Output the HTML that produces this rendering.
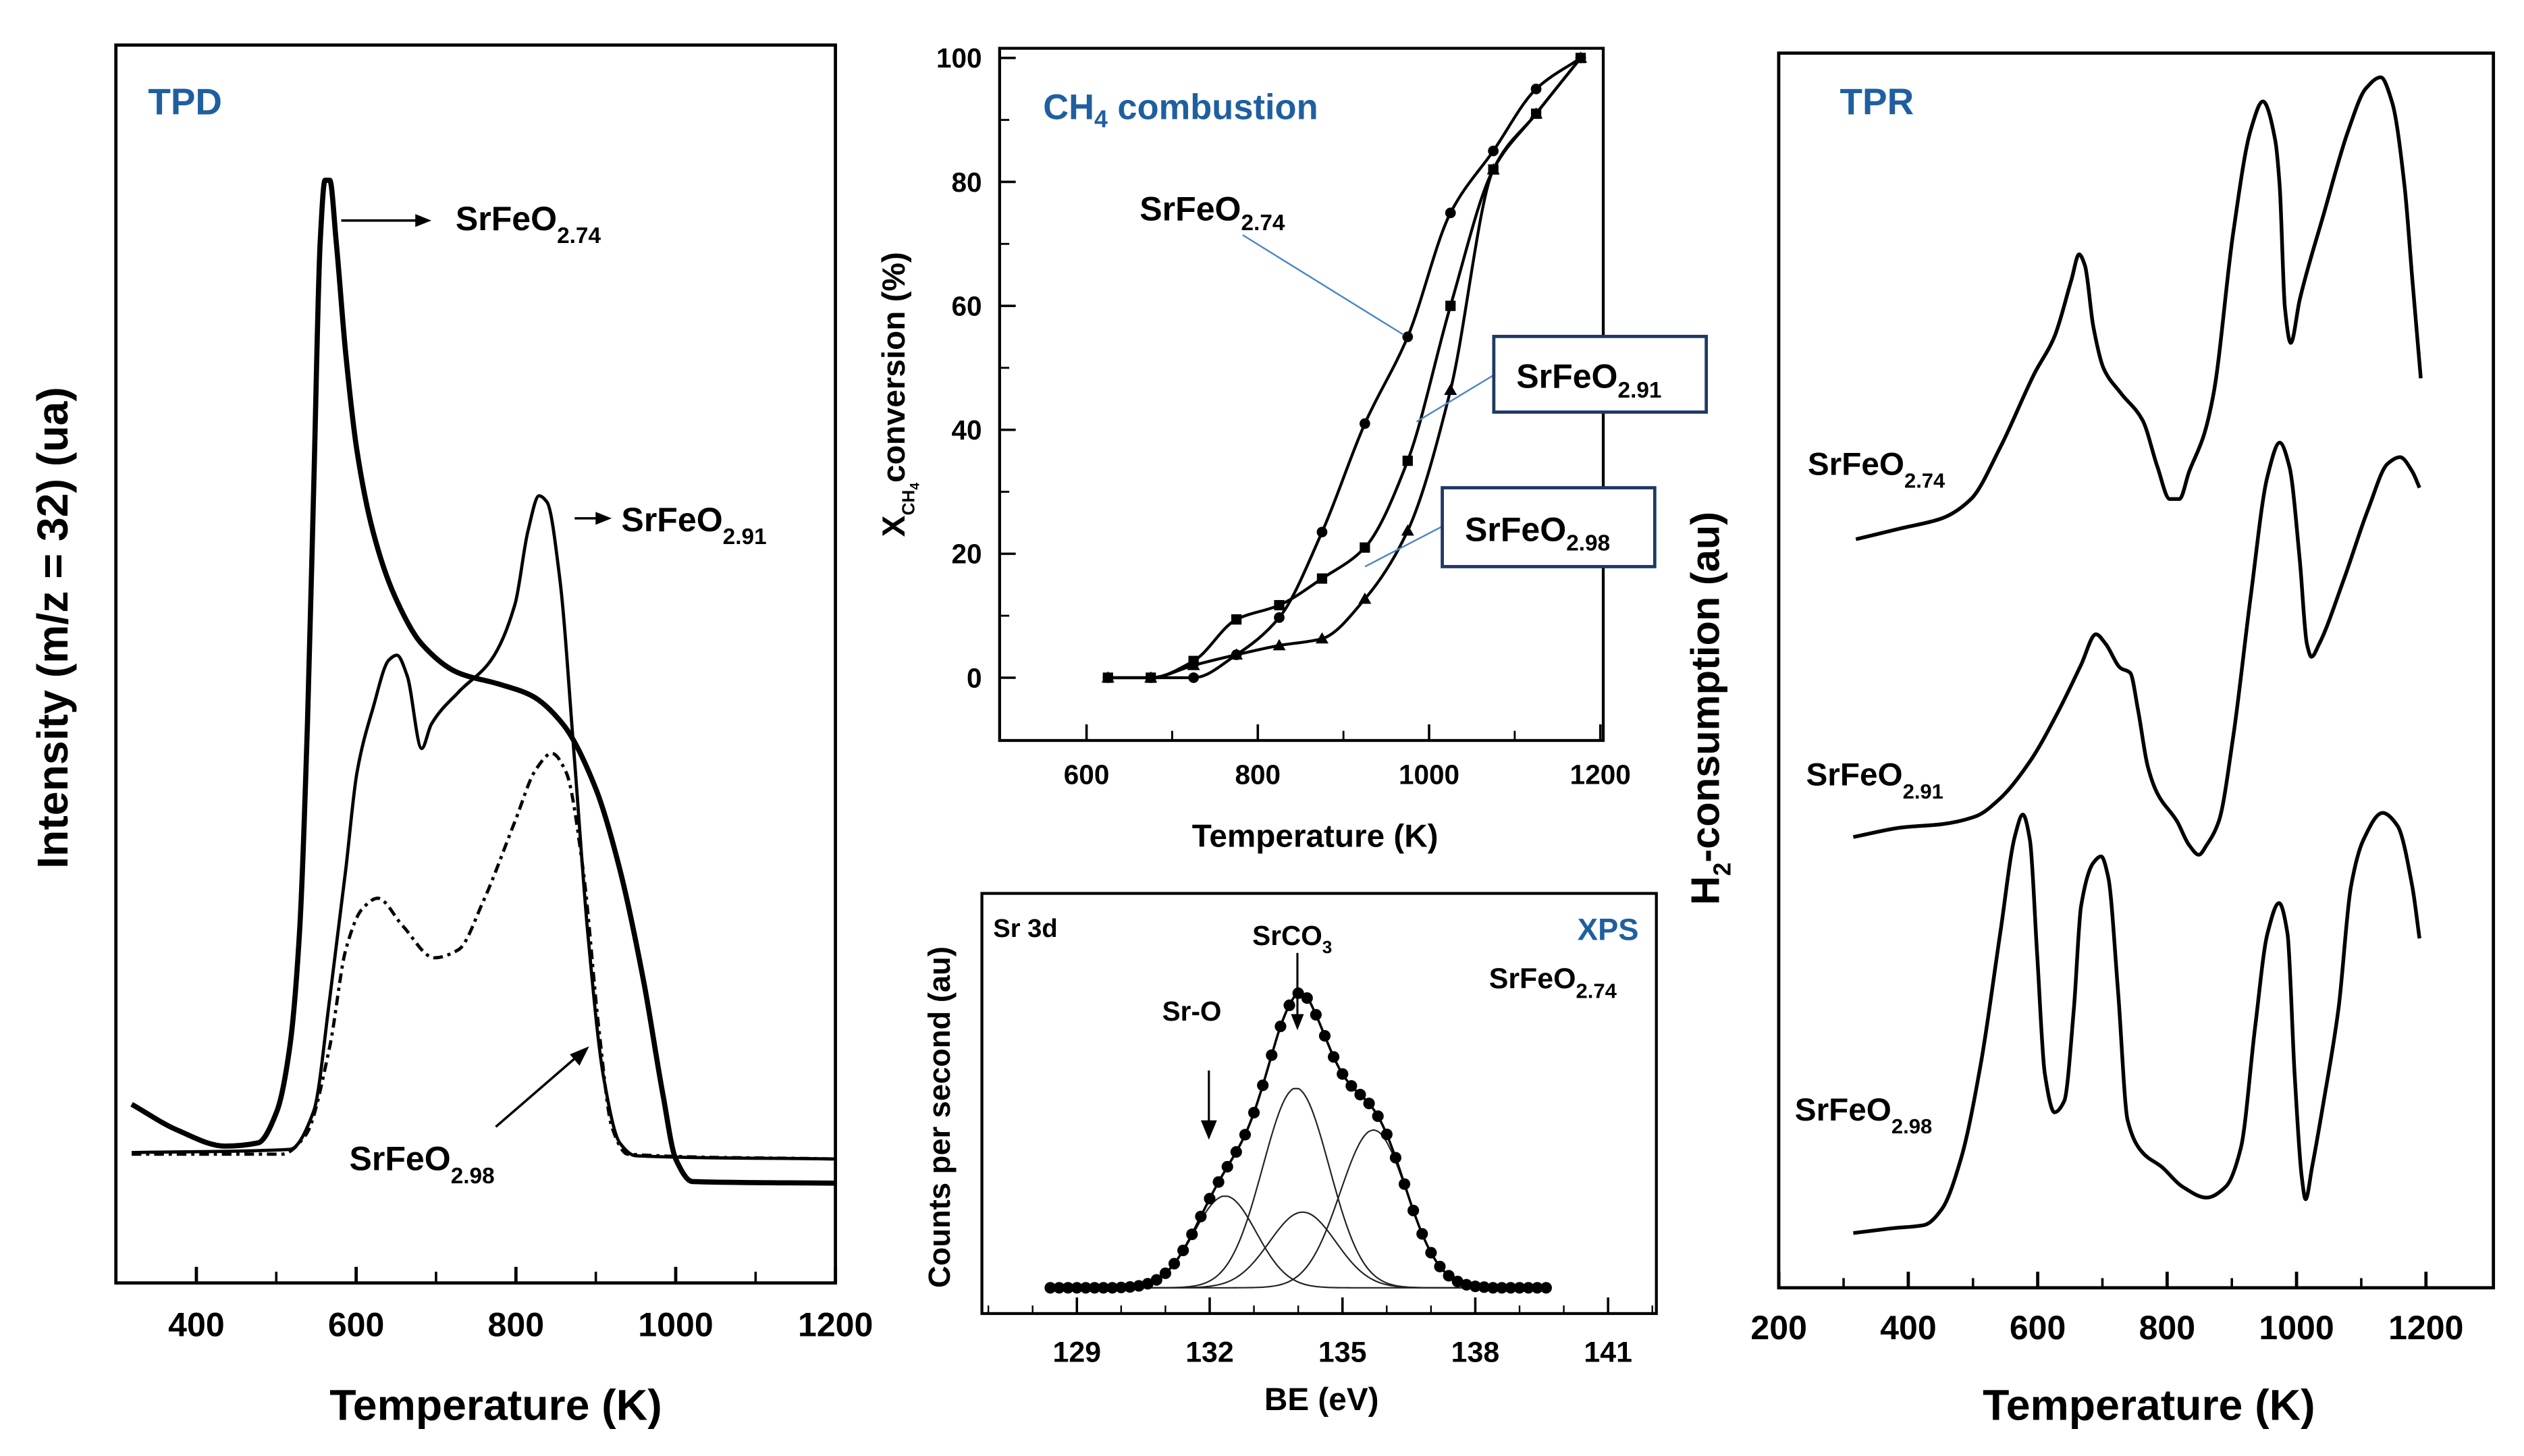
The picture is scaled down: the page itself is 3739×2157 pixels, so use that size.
<!DOCTYPE html>
<html><head><meta charset="utf-8"><style>
html,body{margin:0;padding:0;background:#fff;}
svg{display:block;}
text{font-family:"Liberation Sans",sans-serif;}
</style></head><body>
<svg id="fig" width="3739" height="2157" viewBox="0 0 1568 904.5" preserveAspectRatio="none" xmlns="http://www.w3.org/2000/svg">
<rect x="0" y="0" width="1568" height="904.5" fill="#fff"/>
<g>
<rect x="72" y="28" width="447" height="769" fill="none" stroke="#000" stroke-width="2"/>
<text x="92" y="71" font-size="23" font-weight="bold" fill="#1f5fa0">TPD</text>
<text x="308" y="882" font-size="27" font-weight="bold" text-anchor="middle">Temperature (K)</text>
<text transform="translate(42,390) rotate(-90)" font-size="27" font-weight="bold" text-anchor="middle" style="font-family:'Liberation Sans Narrow','Liberation Sans',sans-serif">Intensity (m/z = 32) (ua)</text>
<g id="tpd-ticks"></g>
<g id="tpd-curves"></g>
<line x1="212" y1="137" x2="262" y2="137" stroke="#000" stroke-width="1.5"/><polygon points="268,137 258,133 258,141" fill="#000"/>
<text x="283" y="143" font-size="21" font-weight="bold">SrFeO<tspan font-size="14" dy="8">2.74</tspan></text>
<line x1="357" y1="322" x2="374" y2="322" stroke="#000" stroke-width="1.5"/><polygon points="380,322 370,318 370,326" fill="#000"/>
<text x="386" y="330" font-size="21" font-weight="bold">SrFeO<tspan font-size="14" dy="8">2.91</tspan></text>
<line x1="308" y1="700" x2="360" y2="655" stroke="#000" stroke-width="1.5"/><polygon points="366,650 354,655 360,662" fill="#000"/>
<text x="217" y="727" font-size="21" font-weight="bold">SrFeO<tspan font-size="14" dy="8">2.98</tspan></text>
</g>
<g>
<rect x="621" y="30" width="375" height="430" fill="none" stroke="#000" stroke-width="1.8"/>
<text x="648" y="74" font-size="22" font-weight="bold" fill="#1f5fa0">CH<tspan font-size="15" dy="5">4</tspan><tspan dy="-5"> combustion</tspan></text>
<text x="817" y="526" font-size="20" font-weight="bold" text-anchor="middle">Temperature (K)</text>
<text transform="translate(562,245) rotate(-90)" font-size="20" font-weight="bold" text-anchor="middle" style="font-family:'Liberation Sans Narrow','Liberation Sans',sans-serif">X<tspan font-size="11" dy="6">CH</tspan><tspan font-size="8" dy="3">4</tspan><tspan dy="-9">conversion (%)</tspan></text>
<g id="ch4-ticks"></g>
<g id="ch4-curves"></g>
<line x1="772" y1="146" x2="872" y2="208" stroke="#4a86c8" stroke-width="1"/>
<text x="708" y="137" font-size="21" font-weight="bold">SrFeO<tspan font-size="14" dy="6">2.74</tspan></text>
<line x1="928" y1="233" x2="880" y2="262" stroke="#4a86c8" stroke-width="1"/>
<rect x="928" y="209" width="132" height="47" fill="#fff" stroke="#1f3864" stroke-width="2"/>
<text x="942" y="241" font-size="21" font-weight="bold">SrFeO<tspan font-size="14" dy="6">2.91</tspan></text>
<line x1="896" y1="327" x2="848" y2="352" stroke="#4a86c8" stroke-width="1"/>
<rect x="896" y="303" width="132" height="49" fill="#fff" stroke="#1f3864" stroke-width="2"/>
<text x="910" y="336" font-size="21" font-weight="bold">SrFeO<tspan font-size="14" dy="6">2.98</tspan></text>
</g>
<g>
<rect x="610" y="555" width="419" height="261" fill="none" stroke="#000" stroke-width="1.8"/>
<text x="821" y="876" font-size="20" font-weight="bold" text-anchor="middle">BE (eV)</text>
<text transform="translate(590,694) rotate(-90)" font-size="19" font-weight="bold" text-anchor="middle" style="font-family:'Liberation Sans Narrow','Liberation Sans',sans-serif">Counts per second (au)</text>
<text x="617" y="582" font-size="16" font-weight="bold">Sr 3d</text>
<text x="1018" y="584" font-size="19" font-weight="bold" fill="#1f5fa0" text-anchor="end">XPS</text>
<text x="925" y="614" font-size="18" font-weight="bold">SrFeO<tspan font-size="13" dy="6">2.74</tspan></text>
<text x="778" y="587" font-size="17" font-weight="bold">SrCO<tspan font-size="11" dy="5">3</tspan></text>
<line x1="806" y1="592" x2="806" y2="632" stroke="#000" stroke-width="1.3"/><polygon points="806,640 802,630 810,630" fill="#000"/>
<text x="722" y="634" font-size="17" font-weight="bold">Sr-O</text>
<line x1="751" y1="665" x2="751" y2="698" stroke="#000" stroke-width="1.3"/><polygon points="751,708 746,696 756,696" fill="#000"/>
<g id="xps-ticks"></g>
<g id="xps-curves"></g>
</g>
<g>
<rect x="1105" y="33" width="444" height="767" fill="none" stroke="#000" stroke-width="2"/>
<text x="1143" y="71" font-size="23" font-weight="bold" fill="#1f5fa0">TPR</text>
<text x="1335" y="882" font-size="27" font-weight="bold" text-anchor="middle">Temperature (K)</text>
<text transform="translate(1068,440) rotate(-90)" font-size="25" font-weight="bold" text-anchor="middle" style="font-family:'Liberation Sans Narrow','Liberation Sans',sans-serif">H<tspan font-size="15" dy="7">2</tspan><tspan dy="-7">-consumption (au)</tspan></text>
<text x="1123" y="295" font-size="20" font-weight="bold">SrFeO<tspan font-size="13" dy="8">2.74</tspan></text>
<text x="1122" y="488" font-size="20" font-weight="bold">SrFeO<tspan font-size="13" dy="8">2.91</tspan></text>
<text x="1115" y="696" font-size="20" font-weight="bold">SrFeO<tspan font-size="13" dy="8">2.98</tspan></text>
<g id="tpr-ticks"></g>
<g id="tpr-curves"></g>
</g>
</svg>
<script>
const tpdT274 = [319,376,436,477,501,517,529,539,547,555,561,567,575,587,601,621,648,682,728,779,819,859,900,930,960,984,1000,1021,1200];
const tpdI274 = [111,95,85,87,107,147,217,347,497,647,685,685,647,577,517,467,427,397,379,372,365,347,307,257,187,117,77,63,62];
const tpdT291 = [319,517,547,567,587,601,621,641,651,664,682,694,728,769,799,815,829,839,855,873,890,910,930,950,1200];
const tpdI291 = [81,83,107,177,257,317,357,387,390,377,332,347,367,387,422,467,489,485,437,327,217,127,87,79,77];
const tpdT298 = [319,507,537,567,587,607,627,658,698,728,759,799,825,845,863,884,904,920,940,1200];
const tpdI298 = [80,80,92,147,207,232,239,222,202,207,237,287,319,329,317,257,157,97,80,77];
const tpdTicks = [400,600,800,1000,1200];
const tpdMinor = [500,700,900,1100];
const ch4T = [625,675,725,775,825,875,925,975,1025,1075,1125,1177];
const ch4X274 = [0,0,0,3.7,9.7,23.5,41,55,75,85,95,100];
const ch4X291 = [0,0,2.7,9.4,11.7,16,21,35,60,82,91,100];
const ch4X298 = [0,0,2,3.7,5.2,6.3,12.7,23.7,46.4,82,91,100];
const ch4XTicks = [600,800,1000,1200];
const ch4YTicks = [0,20,40,60,80,100];
const xpsBE0 = 128.4, xpsStep = 0.2;
const xpsCounts = [0,0,0,0,0,0,0,0,0.2,0.5,1.2,2.5,4.9,9,15,23.2,33.2,44.3,55.4,65.7,75.2,84.4,95.1,108.8,125.8,144.5,162.4,175.5,183,180,169.6,156.5,143.4,132.8,125.4,120,114.5,106.6,95.3,80.8,64.4,48,33.5,21.8,13.2,7.5,3.9,1.9,0.9,0.4,0,0,0,0,0,0,0];
const xpsCompCenter = [132.35,133.95,134.1,135.7];
const xpsCompHeight = [57,124,47,98];
const xpsCompWidth = [0.7,0.75,0.75,0.75];
const xpsTicks = [129,132,135,138,141];
const tprT274 = [319,391,452,497,542,595,626,652,664,673,686,702,728,762,785,804,819,834,857,872,902,929,948,967,974,982,991,1005,1042,1080,1107,1130,1148,1167,1179,1192];
const tprI274 = [465,472,478,490,522,568,591,626,642,635,597,571,556,539,510,490,490,507,530,556,655,719,737,713,684,609,587,614,667,719,745,752,736,684,626,565];
const tprT291 = [315,391,452,505,542,588,633,667,690,705,728,743,755,770,785,815,834,849,861,880,902,929,955,974,989,1005,1016,1023,1035,1073,1111,1141,1160,1179,1190];
const tprI291 = [280,286,288,293,304,327,359,387,406,400,385,382,359,324,307,290,275,269,275,290,342,429,504,525,510,452,400,392,400,440,484,512,516,507,497];
const tprT298 = [315,376,425,452,482,512,542,565,577,588,599,611,626,641,656,667,686,698,709,724,739,762,792,823,861,891,914,936,955,973,986,997,1008,1014,1024,1042,1065,1084,1103,1133,1156,1179,1190];
const tprI298 = [34,37,39,49,81,139,220,281,294,278,208,133,109,116,174,237,264,268,255,185,104,84,75,63,56,63,87,162,220,239,220,133,69,55,75,116,174,249,278,295,287,249,217];
const tprTicks = [200,400,600,800,1000,1200];
const tprMinor = [300,500,700,900,1100];

const tpdX = T => 122 + (T-400)*0.4963;
const tpdY = I => 797 - I;
const ch4Xs = T => 675 + (T-600)*0.532;
const ch4Ys = v => 421 - v*3.85;
const xpsX = b => 669 + (b-129)*27.5;
const xpsY = c => 800 - c;
const tprX = T => 1185.5 + (T-400)*0.402;
const tprY = I => 800 - I;

const NS = "http://www.w3.org/2000/svg";
function mk(tag, attrs, parent){
  const e = document.createElementNS(NS, tag);
  for (const k in attrs) e.setAttribute(k, attrs[k]);
  parent.appendChild(e);
  return e;
}
// monotone cubic (Fritsch-Carlson) path, x increasing
function smooth(pts){
  const n = pts.length;
  const dx=[], m=[];
  for(let i=0;i<n-1;i++){ dx.push(pts[i+1][0]-pts[i][0]); m.push((pts[i+1][1]-pts[i][1])/dx[i]); }
  const t=[m[0]];
  for(let i=1;i<n-1;i++){
    if(m[i-1]*m[i]<=0) t.push(0);
    else { const w1=2*dx[i]+dx[i-1], w2=dx[i]+2*dx[i-1]; t.push((w1+w2)/(w1/m[i-1]+w2/m[i])); }
  }
  t.push(m[n-2]);
  let d = "M"+pts[0][0].toFixed(2)+","+pts[0][1].toFixed(2);
  for(let i=0;i<n-1;i++){
    const h=dx[i]/3;
    d += " C"+(pts[i][0]+h).toFixed(2)+","+(pts[i][1]+t[i]*h).toFixed(2)+" "+(pts[i+1][0]-h).toFixed(2)+","+(pts[i+1][1]-t[i+1]*h).toFixed(2)+" "+pts[i+1][0].toFixed(2)+","+pts[i+1][1].toFixed(2);
  }
  return d;
}
function tickLabel(g, x, y, txt, size){
  const t = mk("text", {x:x, y:y, "font-size":size, "font-weight":"bold", "text-anchor":"middle"}, g);
  t.textContent = txt;
  return t;
}

(function(){
  const g = document.getElementById("tpd-ticks");
  tpdTicks.forEach(T=>{
    const l = mk("line",{x1:tpdX(T),x2:tpdX(T),y1:797,y2:787,stroke:"#000","stroke-width":2},g);
    
    
    const t = tickLabel(g, tpdX(T), 830, T, 21);
    
    
  });
  tpdMinor.forEach(T=>{
    const l = mk("line",{x1:tpdX(T),x2:tpdX(T),y1:797,y2:790,stroke:"#000","stroke-width":1.5},g);
    
    
  });
  const c = document.getElementById("tpd-curves");
  const p1 = mk("path",{d:smooth(tpdT274.map((T,i)=>[tpdX(T),tpdY(tpdI274[i])])),fill:"none",stroke:"#000","stroke-width":3.2},c);
  
  
  const p2 = mk("path",{d:smooth(tpdT291.map((T,i)=>[tpdX(T),tpdY(tpdI291[i])])),fill:"none",stroke:"#000","stroke-width":2},c);
  
  
  const p3 = mk("path",{d:smooth(tpdT298.map((T,i)=>[tpdX(T),tpdY(tpdI298[i])])),fill:"none",stroke:"#000","stroke-width":2,"stroke-dasharray":"6,3,2,3"},c);
  
  
})();

(function(){
  const g = document.getElementById("ch4-ticks");
  ch4XTicks.forEach(T=>{
    const l = mk("line",{x1:ch4Xs(T),x2:ch4Xs(T),y1:460,y2:450,stroke:"#000","stroke-width":1.5},g);
    
    
    const t = tickLabel(g, ch4Xs(T), 487, T, 17);
    
    
  });
  [700,900,1100].forEach(T=>{
    const l = mk("line",{x1:ch4Xs(T),x2:ch4Xs(T),y1:460,y2:454,stroke:"#000","stroke-width":1.2},g);
    
    
  });
  ch4YTicks.forEach(v=>{
    const l = mk("line",{x1:621,x2:631,y1:ch4Ys(v),y2:ch4Ys(v),stroke:"#000","stroke-width":1.5},g);
    
    
    const t = mk("text",{x:610,y:ch4Ys(v)+6,"font-size":17,"font-weight":"bold","text-anchor":"end"},g);
    t.textContent = v;
    
    
  });
  [10,30,50,70,90].forEach(v=>{
    const l = mk("line",{x1:621,x2:627,y1:ch4Ys(v),y2:ch4Ys(v),stroke:"#000","stroke-width":1.2},g);
    
    
  });
  const c = document.getElementById("ch4-curves");
  [[ch4X274,'2-74','circle'],[ch4X291,'2-91','square'],[ch4X298,'2-98','triangle']].forEach(([vals,nm,shape])=>{
    const p = mk("path",{d:smooth(ch4T.map((T,i)=>[ch4Xs(T),ch4Ys(vals[i])])),fill:"none",stroke:"#000","stroke-width":1.8},c);
    
    
    ch4T.forEach((T,i)=>{
      const x=ch4Xs(T), y=ch4Ys(vals[i]);
      let m;
      if(shape==='circle') m = mk("circle",{cx:x,cy:y,r:3.3,fill:"#000"},c);
      else if(shape==='square') m = mk("rect",{x:x-3.2,y:y-3.2,width:6.4,height:6.4,fill:"#000"},c);
      else m = mk("polygon",{points:(x)+","+(y-4)+" "+(x-4)+","+(y+3)+" "+(x+4)+","+(y+3),fill:"#000"},c);
      
      
    });
  });
})();

(function(){
  const g = document.getElementById("xps-ticks");
  xpsTicks.forEach(b=>{
    const l = mk("line",{x1:xpsX(b),x2:xpsX(b),y1:816,y2:806,stroke:"#000","stroke-width":1.5},g);
    
    
    const t = tickLabel(g, xpsX(b), 846, b, 18);
    
    
  });
  [127,128,130,131,133,134,136,137,139,140,142].forEach(b=>{
    const l = mk("line",{x1:xpsX(b),x2:xpsX(b),y1:816,y2:811,stroke:"#000","stroke-width":1},g);
    
    
  });
  const c = document.getElementById("xps-curves");
  xpsCompCenter.forEach((cc,k)=>{
    const pts=[];
    for(let b=129.5;b<=139;b+=0.1){
      const d=b-cc;
      pts.push([xpsX(b), xpsY(xpsCompHeight[k]*Math.exp(-d*d/(2*xpsCompWidth[k]*xpsCompWidth[k])))]);
    }
    const p = mk("path",{d:smooth(pts),fill:"none",stroke:"#222","stroke-width":0.9},c);
    
    
  });
  const env = xpsCounts.map((v,i)=>[xpsX(xpsBE0+i*xpsStep), xpsY(v)]);
  const pe = mk("path",{d:smooth(env),fill:"none",stroke:"#000","stroke-width":1.5},c);
  
  
  env.forEach(p=>{
    const m = mk("circle",{cx:p[0],cy:p[1],r:3.6,fill:"#000"},c);
    
    
  });
})();

(function(){
  const g = document.getElementById("tpr-ticks");
  tprTicks.forEach(T=>{
    const l = mk("line",{x1:tprX(T),x2:tprX(T),y1:800,y2:790,stroke:"#000","stroke-width":2},g);
    
    
    const t = tickLabel(g, tprX(T), 832, T, 21);
    
    
  });
  tprMinor.forEach(T=>{
    const l = mk("line",{x1:tprX(T),x2:tprX(T),y1:800,y2:794,stroke:"#000","stroke-width":1.5},g);
    
    
  });
  const c = document.getElementById("tpr-curves");
  [[tprT274,tprI274,'2-74'],[tprT291,tprI291,'2-91'],[tprT298,tprI298,'2-98']].forEach(([Ts,Is,nm])=>{
    const p = mk("path",{d:smooth(Ts.map((T,i)=>[tprX(T),tprY(Is[i])])),fill:"none",stroke:"#000","stroke-width":2.3},c);
    
    
  });
})();
</script>
</body></html>
